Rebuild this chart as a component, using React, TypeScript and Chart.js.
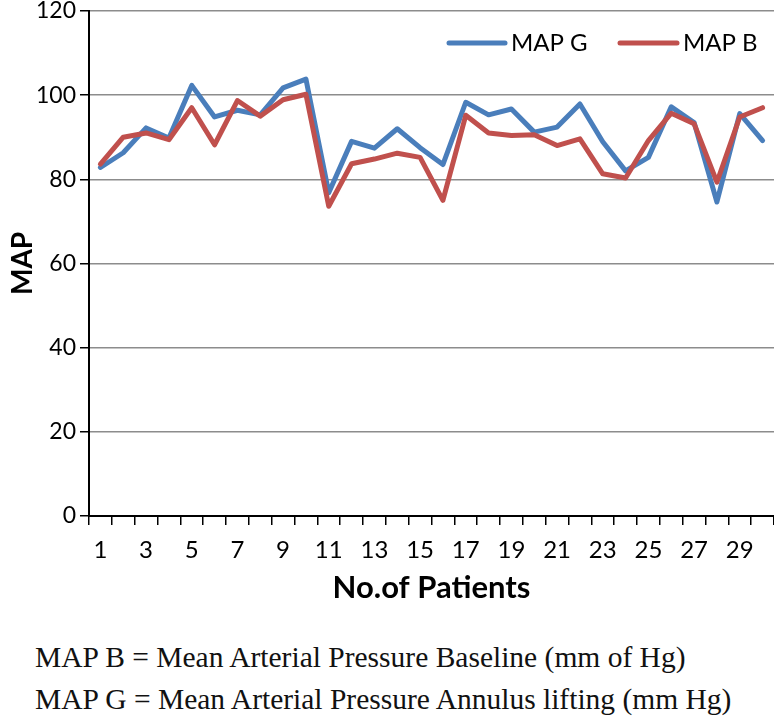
import React, { useEffect, useRef } from "react";
import { Chart, registerables } from "chart.js";

Chart.register(...registerables);

const patients = ["1","2","3","4","5","6","7","8","9","10","11","12","13","14","15","16","17","18","19","20","21","22","23","24","25","26","27","28","29","30"];
const mapG = [82.8, 86.3, 92.2, 89.8, 102.3, 94.8, 96.4, 95.3, 101.7, 103.8, 76.8, 89.0, 87.4, 92.0, 87.5, 83.5, 98.3, 95.3, 96.7, 91.2, 92.4, 97.9, 88.9, 82.0, 85.2, 97.2, 93.5, 74.6, 95.6, 89.2];
const mapB = [83.6, 90.0, 91.0, 89.4, 97.0, 88.2, 98.7, 95.0, 98.9, 100.2, 73.6, 83.7, 84.8, 86.2, 85.2, 75.0, 95.2, 91.0, 90.4, 90.6, 88.0, 89.6, 81.3, 80.3, 89.2, 95.7, 93.2, 79.3, 94.8, 97.0];
const yTicksMin = 0;
const yTicksMax = 120;
const yStep = 20;

const SANS = "Lato, 'Noto Sans', sans-serif";
const CANVAS_H = 607;
const PLOT_BOTTOM = 516;

const legendPlugin = {
  id: "customLegend",
  afterDraw(chart: any) {
    const ctx = chart.ctx;
    const slots = [
      { ds: 0, x1: 449, x2: 505, tx: 511 },
      { ds: 1, x1: 620, x2: 677, tx: 683 },
    ];
    const y = 43;
    ctx.save();
    slots.forEach((s) => {
      const d = chart.data.datasets[s.ds];
      ctx.strokeStyle = d.borderColor;
      ctx.lineWidth = 5;
      ctx.lineCap = "round";
      ctx.beginPath();
      ctx.moveTo(s.x1, y);
      ctx.lineTo(s.x2, y);
      ctx.stroke();
      ctx.fillStyle = "#000";
      ctx.font = `24px ${SANS}`;
      ctx.textBaseline = "middle";
      ctx.textAlign = "left";
      ctx.fillText(d.label, s.tx, y);
    });
    ctx.restore();
  },
};

export default function App() {
  const ref = useRef<HTMLCanvasElement | null>(null);

  useEffect(() => {
    if (!ref.current) return;
    const chart = new Chart(ref.current, {
      type: "line",
      data: {
        labels: patients,
        datasets: [
          {
            label: "MAP G",
            data: mapG,
            borderColor: "#4A7EBB",
            backgroundColor: "#4A7EBB",
            borderWidth: 5,
            pointRadius: 0,
            tension: 0,
            borderJoinStyle: "round",
            borderCapStyle: "round",
            order: 1,
          },
          {
            label: "MAP B",
            data: mapB,
            borderColor: "#C0504D",
            backgroundColor: "#C0504D",
            borderWidth: 5,
            pointRadius: 0,
            tension: 0,
            borderJoinStyle: "round",
            borderCapStyle: "round",
            order: 0,
          },
        ],
      },
      options: {
        animation: false,
        responsive: false,
        devicePixelRatio: 1,
        layout: { padding: { left: 0, right: 0, top: 0, bottom: 0 } },
        plugins: {
          legend: { display: false },
          tooltip: { enabled: false },
        },
        scales: {
          x: {
            offset: true,
            grid: {
              offset: true,
              drawOnChartArea: false,
              drawTicks: true,
              tickLength: 9,
              tickColor: "#000",
              lineWidth: 1.5,
            },
            border: { color: "#000", width: 2 },
            ticks: {
              autoSkip: false,
              maxRotation: 0,
              minRotation: 0,
              padding: 11,
              color: "#000",
              font: { family: SANS, size: 24 },
              callback: function (this: any, _v: any, i: number) {
                return i % 2 === 0 ? patients[i] : "";
              },
            },
            title: {
              display: true,
              text: "No.of Patients",
              color: "#000",
              font: { family: SANS, size: 31, weight: "bold" },
              padding: { top: 0, bottom: 0 },
            },
            afterFit: (s: any) => {
              s.height = CANVAS_H - PLOT_BOTTOM;
            },
          },
          y: {
            min: yTicksMin,
            max: yTicksMax,
            ticks: {
              stepSize: yStep,
              padding: 4,
              color: "#000",
              font: { family: SANS, size: 23, lineHeight: 0.6 },
            },
            grid: {
              color: "#8c8c8c",
              lineWidth: 1.5,
              drawTicks: true,
              tickLength: 9,
              tickColor: "#000",
            },
            border: { color: "#000", width: 2 },
            title: {
              display: true,
              text: "MAP",
              color: "#000",
              font: { family: SANS, size: 28, weight: "bold" },
              padding: { top: 6, bottom: 0 },
            },
            afterFit: (s: any) => {
              s.width = 89;
            },
          },
        },
      },
      plugins: [legendPlugin],
    });
    return () => chart.destroy();
  }, []);

  const noteStyle: React.CSSProperties = {
    position: "absolute",
    left: 35,
    fontFamily: "'Liberation Serif', 'Times New Roman', serif",
    fontSize: 29.5,
    color: "#111",
    whiteSpace: "nowrap",
    lineHeight: "32px",
  };

  return (
    <div style={{ position: "absolute", left: 0, top: 0, width: 774, height: 722, background: "#fff" }}>
      <canvas ref={ref} width={774} height={CANVAS_H} style={{ position: "absolute", left: 0, top: 0 }} />
      <div style={{ ...noteStyle, top: 641 }}>MAP B = Mean Arterial Pressure Baseline (mm of Hg)</div>
      <div style={{ ...noteStyle, top: 683 }}>MAP G = Mean Arterial Pressure Annulus lifting (mm Hg)</div>
    </div>
  );
}
